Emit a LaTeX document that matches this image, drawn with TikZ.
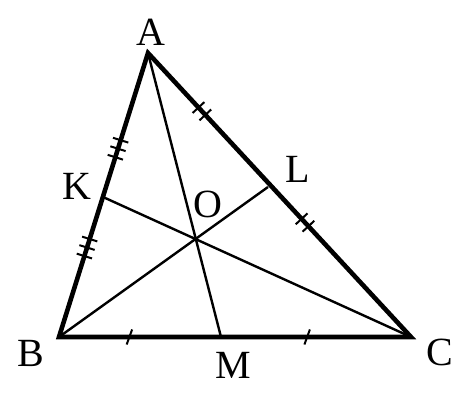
\documentclass[tikz,border=0pt]{standalone}
\usepackage{fontspec}
\setmainfont{Liberation Serif}
\usetikzlibrary{calc}

% one tick mark across side #1--#2 at position #3, at angle #4
\newcommand{\sidetick}[4]{%
  \draw[tick] ($(#1)!#3!(#2)!8pt!#4:(#2)$) -- ($(#1)!#3!(#2)!8pt!#4-180:(#2)$);}

\begin{document}
\begin{tikzpicture}[
  x=1pt, y=1pt,
  side/.style={line width=4.6pt, line join=miter},
  median/.style={line width=2.4pt},
  tick/.style={line width=2pt},
  lbl/.style={font=\fontsize{40}{42}\selectfont, inner sep=0pt}
]
  \useasboundingbox (0,0) rectangle (467,410);

  \coordinate (A) at (148,357);
  \coordinate (B) at (59,73);
  \coordinate (C) at (411,73);
  \coordinate (M) at (221,73);
  \coordinate (K) at (103,213);
  \coordinate (L) at (268,223);
  \coordinate (O) at (195,171);

  % medians
  \draw[median] (A) -- (M);
  \draw[median] (B) -- (L);
  \draw[median] (C) -- (K);

  % triangle
  \draw[side] (A) -- (B) -- (C) -- cycle;

  % equal parts
  \sidetick{B}{C}{0.20}{70}
  \sidetick{B}{C}{0.705}{70}
  \foreach \t in {0.192, 0.218, 0.584, 0.610}
    \sidetick{A}{C}{\t}{90};
  \foreach \t in {0.285, 0.315, 0.345, 0.633, 0.663, 0.693}
    \sidetick{B}{A}{\t}{90};

  % labels
  \node[lbl] (lA) at (151,378) {A};
  \node[lbl] (lB) at (31,57) {B};
  \node[lbl] (lC) at (440,58) {C};
  \node[lbl] (lM) at (233,45) {M};
  \node[lbl] (lK) at (77,224) {K};
  \node[lbl] (lL) at (298,241) {L};
  \node[lbl] (lO) at (208,206) {O};
\end{tikzpicture}
\end{document}
